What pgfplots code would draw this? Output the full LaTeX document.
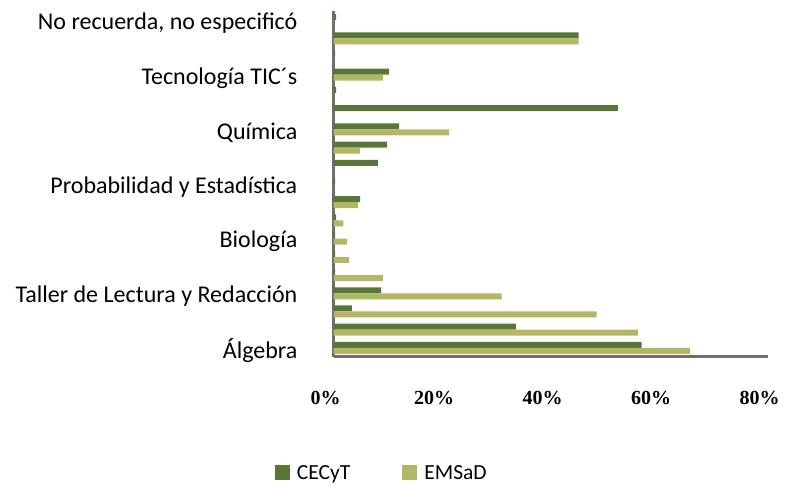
\documentclass[border=0pt]{standalone}
\usepackage{fontspec}
\setmainfont{Carlito}
\newfontfamily\tickfont{Liberation Serif}
\usepackage{pgfplots}
\pgfplotsset{compat=1.18}
\definecolor{cecyt}{RGB}{87,118,56}
\definecolor{emsad}{RGB}{179,182,101}
\definecolor{axgray}{RGB}{110,110,110}
\begin{document}
\begin{tikzpicture}
\path[use as bounding box] (0,0) rectangle (791pt,484pt);
\begin{axis}[at={(333.5pt,127pt)}, anchor=south west,
 scale only axis, width=434pt, height=346pt,
 xmin=0, xmax=80, ymin=0.5, ymax=19.5,
 axis x line*=bottom, axis y line*=left,
 axis line style={axgray, line width=3pt, -},
 xtick={0,20,40,60,80}, xticklabels={0\%,20\%,40\%,60\%,80\%},
 ytick={1,4,7,10,13,16,19},
 yticklabels={Álgebra, Taller de Lectura y Redacción, Biología, Probabilidad y Estadística, Química, Tecnología TIC´s, {No recuerda, no especificó}},
 major tick length=0pt,
 tick style={draw=none},
 xticklabel style={font=\tickfont\bfseries\fontsize{20}{24}\selectfont, anchor=north, inner sep=0pt, yshift=-34pt, xshift=-8pt},
 yticklabel style={font=\fontsize{24}{28}\selectfont, anchor=east, inner sep=0pt, xshift=-36pt, yshift=-3pt},
 xbar, bar width=6pt,
 legend style={at={(-0.1348,-0.335)}, anchor=west, draw=none, fill=none, inner sep=0pt, outer sep=0pt,
   legend columns=2, font=\fontsize{21.5}{24}\selectfont,
   /tikz/every odd column/.append style={column sep=5pt},
   /tikz/every even column/.append style={column sep=50pt}},
 legend image code/.code={\fill[#1] (0pt,-7.5pt) rectangle (15pt,7.5pt);},
]
\addplot[fill=cecyt, draw=none, bar shift=3pt] coordinates {(56.8,1) (33.6,2) (3.4,3) (8.8,4) (0.3,5) (0.3,6) (0.3,7) (0.5,8) (4.9,9) (0.3,10) (8.2,11) (9.9,12) (12.1,13) (52.4,14) (0.5,15) (10.2,16) (0.3,17) (45.2,18) (0.5,19)};
\addplot[fill=emsad, draw=none, bar shift=-3pt] coordinates {(65.7,1) (56.1,2) (48.5,3) (31.0,4) (9.1,5) (2.9,6) (2.5,7) (1.8,8) (4.5,9) (0,10) (0,11) (4.9,12) (21.3,13) (0,14) (0,15) (9.1,16) (0,17) (45.2,18) (0,19)};
\legend{CECyT, EMSaD}
\end{axis}
\end{tikzpicture}
\end{document}
